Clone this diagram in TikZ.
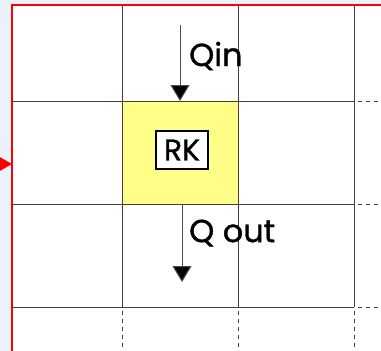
\documentclass[tikz,border=0pt]{standalone}
\usepackage{fontspec}
\setmainfont{Poppins}
\usetikzlibrary{arrows.meta}
\definecolor{bgblue}{HTML}{EAF2FC}
\definecolor{cellyellow}{HTML}{FFFF88}
\definecolor{gridgray}{HTML}{404040}
\tikzset{
  gridline/.style={draw=gridgray, line width=1bp},
  griddash/.style={draw=gridgray, line width=1bp, dash pattern=on 4bp off 4bp},
  redframe/.style={draw=red, line width=2.2bp},
  flow/.style={draw=black!70, line width=1bp, -{Triangle[length=16bp,width=19bp,fill=black]}},
  lbl/.style={font=\fontsize{32}{34}\selectfont\addfontfeatures{FakeBold=1}, inner sep=0pt},
  rkbox/.style={draw=black, line width=1.3bp, fill=white, minimum width=52bp, minimum height=38bp, inner sep=0pt, font=\fontsize{30}{32}\selectfont\addfontfeatures{FakeBold=1}}
}
\begin{document}
\begin{tikzpicture}[x=1bp, y=-1bp]
\useasboundingbox (0,0) rectangle (381,351);
\fill[bgblue] (0,0) rectangle (381,351);
\fill[white] (12,5) rectangle (381,351);
% yellow cell
\fill[cellyellow] (122,101) rectangle (238,204);
% solid grid
\foreach \x in {122,238,354} {\draw[gridline] (\x,5) -- (\x,307);}
\foreach \y in {101,204,307} {\draw[gridline] (12,\y) -- (354,\y);}
% dashed continuations
\foreach \x in {122,238,354} {\draw[griddash] (\x,311) -- (\x,351);}
\foreach \y in {101,204,307} {\draw[griddash] (358,\y) -- (381,\y);}
% red frame
\draw[redframe] (12,351) -- (12,5) -- (381,5);
\fill[red] (12,164) -- (-2,156) -- (-2,172) -- cycle;
% RK box
\node[rkbox] (rk) at (182,150) {RK};
% flows
\coordinate (qinS) at (180,25);
\coordinate (qinE) at (180,101);
\coordinate (qoutS) at (182,204);
\coordinate (qoutE) at (182,282);
\draw[flow] (qinS) -- (qinE);
\draw[flow] (qoutS) -- (qoutE);
\node[lbl, anchor=west] (qin) at (189,56) {Qin};
\node[lbl, anchor=west] (qout) at (189,233) {Q out};
\end{tikzpicture}
\end{document}
